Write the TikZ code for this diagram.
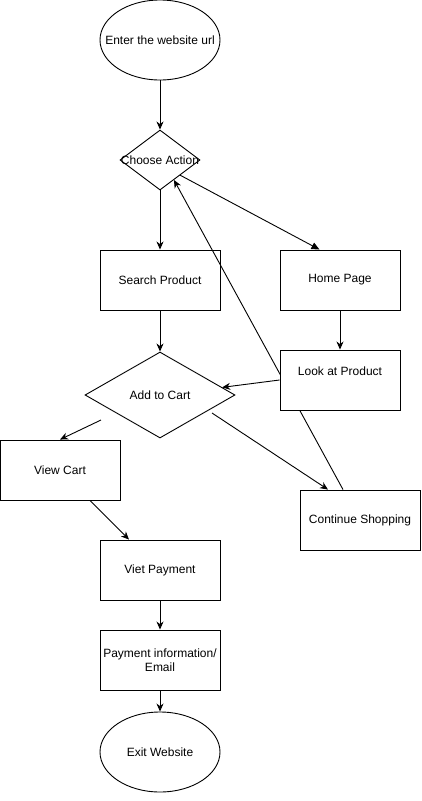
\documentclass[tikz,border=0pt]{standalone}
\usepackage{fontspec}
\setmainfont{Liberation Sans}
\usepackage{tikz}
\usetikzlibrary{shapes.geometric,arrows.meta}

\tikzset{
  every node/.style={font=\fontsize{12}{14}\selectfont},
  terminal/.style={ellipse, draw, fill=white, minimum width=120pt, minimum height=80pt, inner sep=0pt},
  decision/.style={diamond, draw, fill=white, inner sep=0pt},
  process/.style={rectangle, draw, fill=white, minimum width=120pt, minimum height=60pt, inner sep=0pt, align=center},
  flow/.style={-{Stealth[length=8pt,width=7pt,inset=2.5pt]}},
  blockflow/.style={-{Triangle[length=8pt,width=7pt]}}
}

\begin{document}
\begin{tikzpicture}[x=1pt, y=-1pt, line width=0.9pt]
\useasboundingbox (0,0) rectangle (421,801);
\node[terminal, label=center:{Enter the website url}] (url) at (160,40) {};
\node[decision, minimum width=80pt, minimum height=60pt, label=center:{Choose Action}] (ca) at (160,160) {};
\node[process] (sp) at (160,280) {Search Product};
\node[process] (hp) at (340,280) {Home Page};
\node[decision, minimum width=150pt, minimum height=86pt, label=center:{Add to Cart}] (atc) at (160,395) {};
\node[process] (vc) at (60,470) {View Cart};
\node[process] (cs) at (360,520) {Continue Shopping};
\node[process] (vp) at (160,570) {Viet Payment};
\node[process] (pay) at (160,660) {Payment information/\\Email};
\node[terminal, label=center:{Exit Website}] (exit) at (160,752) {};
% back to the start, runs under the product box
\draw[flow] ([xshift=-17pt]cs.north) -- (ca.-55);
\node[process] (lp) at (340,380) {Look at Product\\\strut};
\coordinate (atcleft) at (101,420);
\coordinate (atcright) at (212,413);

\draw[flow] (url.south) -- (ca.north);
\draw[flow] (ca.south) -- (sp.north);
\draw[blockflow] (ca.south east) -- (hp.124);
\draw[flow] (sp.south) -- (atc.north);
\draw[flow] (hp.south) -- (lp.north);
\draw[flow] (lp.west) -- (atc.7);
\draw[flow] (atcleft) -- (vc.north);
\draw[flow] (atcright) -- ([xshift=-32pt]cs.north);
\draw[flow] ([xshift=30pt]vc.south) -- ([xshift=-31pt]vp.north);
\draw[flow] (vp.south) -- (pay.north);
\draw[flow] (pay.south) -- (exit.north);
\end{tikzpicture}
\end{document}
